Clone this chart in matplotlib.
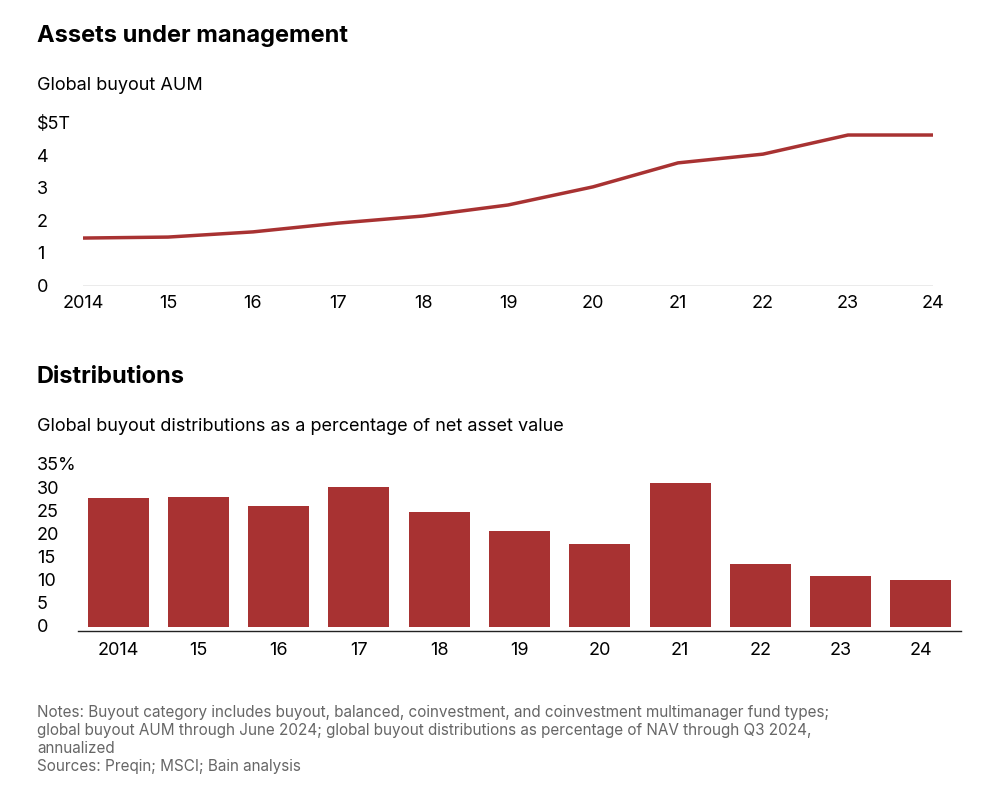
import matplotlib.pyplot as plt
import matplotlib.transforms as mtransforms

plt.rcParams['font.family'] = ['Inter', 'DejaVu Sans']

years = ['2014', '15', '16', '17', '18', '19', '20', '21', '22', '23', '24']
aum = [1.48, 1.51, 1.67, 1.94, 2.16, 2.5, 3.06, 3.8, 4.07, 4.66, 4.66]
dist = [27.9, 28.1, 26.1, 30.2, 24.8, 20.7, 17.9, 31.1, 13.6, 11.0, 10.2]
aum_ticks = ['0', '1', '2', '3', '4', '$5T']
dist_ticks = ['0', '5', '10', '15', '20', '25', '30', '35%']

red = '#a83232'
fig = plt.figure(figsize=(10.08, 8.12), dpi=100)

ax1 = fig.add_axes([83/1008, 1-287/812, 850/1008, 162/812])
x = list(range(len(years)))
ax1.plot(x, aum, color=red, lw=2.5, solid_capstyle='butt')
ax1.set_xlim(0, 10)
ax1.set_ylim(0, 5)
ax1.axhline(0, color='#999999', lw=1)
ax1.set_xticks(x)
ax1.set_xticklabels(years, fontsize=13)
ax1.tick_params(length=0, pad=6)
ax1.set_yticks([])
tr1 = mtransforms.blended_transform_factory(fig.transFigure, ax1.transData)
for i, lab in enumerate(aum_ticks):
    ax1.text(37/1008, i, lab, transform=tr1, fontsize=13, ha='left', va='center')
for s in ax1.spines.values():
    s.set_visible(False)

ax2 = fig.add_axes([78/1008, 1-628/812, 883/1008, 162/812])
ax2.bar(x, dist, width=0.76, color=red)
ax2.set_xlim(-0.5, 10.5)
ax2.set_ylim(0, 35)
ax2.axhline(-0.8, color='#222222', lw=1, clip_on=False)
ax2.set_xticks(x)
ax2.set_xticklabels(years, fontsize=13)
ax2.tick_params(length=0, pad=10)
ax2.set_yticks([])
tr2 = mtransforms.blended_transform_factory(fig.transFigure, ax2.transData)
for i, lab in enumerate(dist_ticks):
    ax2.text(37/1008, i * 5, lab, transform=tr2, fontsize=13, ha='left', va='center')
for s in ax2.spines.values():
    s.set_visible(False)

fig.text(37/1008, 1-36/812, 'Assets under management', fontsize=17, fontweight='bold', va='center')
fig.text(37/1008, 1-86/812, 'Global buyout AUM', fontsize=13, va='center')
fig.text(37/1008, 1-377/812, 'Distributions', fontsize=17, fontweight='bold', va='center')
fig.text(37/1008, 1-427/812, 'Global buyout distributions as a percentage of net asset value', fontsize=13, va='center')
notes = ('Notes: Buyout category includes buyout, balanced, coinvestment, and coinvestment multimanager fund types;\n'
         'global buyout AUM through June 2024; global buyout distributions as percentage of NAV through Q3 2024,\n'
         'annualized\n'
         'Sources: Preqin; MSCI; Bain analysis')
fig.text(37/1008, 1-705/812, notes, fontsize=11, color='#666666', va='top', linespacing=1.25)

fig.savefig('out.png', dpi=100)
